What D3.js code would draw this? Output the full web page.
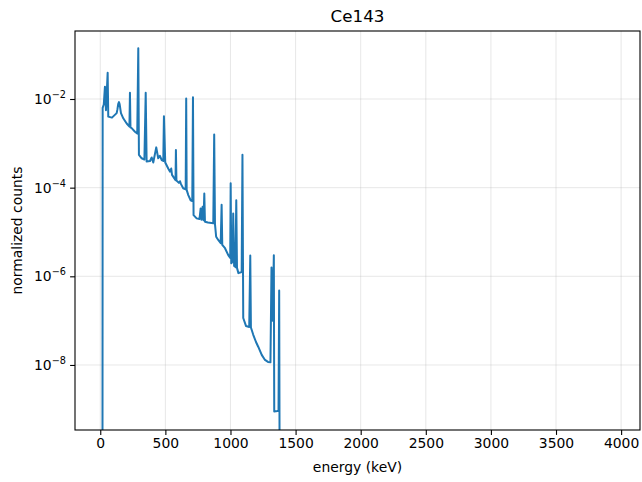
<!DOCTYPE html>
<html>
<head>
<meta charset="utf-8">
<script src="https://cdn.jsdelivr.net/npm/d3@7"></script>
<style>
  html, body { margin: 0; padding: 0; background: #fff; }
  svg { display: block; }
  text { font-family: "DejaVu Sans", sans-serif; fill: #000; }
</style>
</head>
<body>
<svg id="chart" width="642" height="482"></svg>
<script>
// Ce143 gamma spectrum: energy (keV) vs normalized counts
const energy = [
  17, 18.4, 27, 36, 43.8, 56.8, 61.4, 89.9, 126, 132, 138, 143.6, 149, 159,
  176.6, 202.8, 224, 228, 232, 241, 266.5, 284, 292, 297, 318, 339, 349, 356,
  382, 395, 407, 430, 445, 458, 472, 484, 489, 499, 522, 535, 545, 551, 578,
  581, 585, 604, 612, 620, 637, 656, 660, 663.5, 676, 694, 706.6, 712, 716.5,
  740, 762, 771, 777, 786, 793, 799, 804, 827, 868, 875, 881, 890, 906, 925,
  932, 937, 958, 983, 998, 1001.5, 1006, 1017, 1021, 1028, 1034, 1038, 1044.5,
  1050, 1061, 1086, 1092, 1098, 1119, 1144, 1152, 1157, 1175, 1196, 1213, 1240,
  1265, 1288, 1307, 1315, 1324, 1333, 1336, 1361, 1369, 1374, 1378
];
const counts = [
  1e-11, 6.3e-3, 7.5e-3, 1.9e-2, 5.6e-3, 3.9e-2, 4.0e-3, 3.8e-3, 4.8e-3, 5.9e-3, 7.8e-3, 8.5e-3, 7.6e-3, 4.8e-3,
  3.67e-3, 2.8e-3, 2.4e-3, 1.38e-2, 2.28e-3, 2.2e-3, 1.83e-3, 1.66e-3, 1.39e-1, 5.5e-4, 4.6e-4, 4.3e-4, 1.38e-2, 3.9e-4,
  4.0e-4, 4.8e-4, 3.7e-4, 8.1e-4, 4.6e-4, 5.2e-4, 4.2e-4, 4.0e-4, 4.1e-3, 3.7e-4, 2.7e-4, 2.3e-4, 2.7e-4, 1.94e-4, 1.48e-4,
  7.1e-4, 1.45e-4, 1.28e-4, 1.4e-4, 1.2e-4, 9.7e-5, 9.1e-5, 1.03e-2, 8.9e-5, 6.8e-5, 5.2e-5, 5.0e-5, 1.09e-2, 2.4e-5,
  2.03e-5, 1.96e-5, 3.4e-5, 1.9e-5, 3.7e-5, 1.85e-5, 7.4e-5, 1.7e-5, 1.63e-5, 1.58e-5, 1.58e-3, 1.5e-5, 7.8e-6, 6.6e-6, 5.6e-6,
  4.1e-5, 5.1e-6, 4.3e-6, 3.0e-6, 2.6e-6, 1.26e-4, 1.96e-6, 2.2e-6, 2.6e-5, 1.7e-6, 2.3e-6, 1.6e-6, 5.2e-5,
  1.55e-6, 1.18e-6, 1.25e-6, 5.5e-4, 1.15e-7, 7.6e-8, 7.2e-8, 2.95e-6, 7.0e-8, 4.8e-8, 3.3e-8, 2.58e-8, 1.69e-8,
  1.3e-8, 1.17e-8, 1.15e-8, 1.58e-6, 1.0e-7, 3.0e-6, 8.9e-10, 9.1e-10, 9.5e-10, 4.8e-7, 1e-11
];
const xTicks = [0, 500, 1000, 1500, 2000, 2500, 3000, 3500, 4000];
const yTickExps = [-2, -4, -6, -8];

const svg = d3.select("#chart");
const m = { left: 75, right: 640, top: 31, bottom: 430 };

const x = d3.scaleLinear().domain([-194, 4145]).range([m.left, m.right]);
const y = d3.scaleLog().domain([Math.pow(10, -9.467), Math.pow(10, -0.466)]).range([m.bottom, m.top]);

svg.append("defs").append("clipPath").attr("id", "plot-clip")
  .append("rect").attr("x", m.left).attr("y", m.top)
  .attr("width", m.right - m.left).attr("height", m.bottom - m.top);

// grid
const grid = svg.append("g").attr("stroke", "#b0b0b0").attr("stroke-opacity", 0.3).attr("stroke-width", 1);
xTicks.forEach(t => grid.append("line")
  .attr("x1", x(t)).attr("x2", x(t)).attr("y1", m.top).attr("y2", m.bottom));
yTickExps.forEach(e => grid.append("line")
  .attr("x1", m.left).attr("x2", m.right).attr("y1", y(Math.pow(10, e))).attr("y2", y(Math.pow(10, e))));

// spectrum line
const pts = energy.map((e, i) => [e, counts[i]]);
svg.append("path")
  .datum(pts)
  .attr("clip-path", "url(#plot-clip)")
  .attr("fill", "none")
  .attr("stroke", "#1f77b4")
  .attr("stroke-width", 2)
  .attr("stroke-linejoin", "round")
  .attr("d", d3.line().x(d => x(d[0])).y(d => y(Math.max(d[1], 1e-12))));

// x axis
const xAxis = d3.axisBottom(x).tickValues(xTicks).tickSize(4.9).tickPadding(3.5).tickFormat(d3.format("d"));
const gx = svg.append("g").attr("transform", `translate(0,${m.bottom})`).call(xAxis);
gx.select(".domain").remove();
gx.selectAll(".tick line").attr("stroke", "#000").attr("stroke-width", 1.1);
gx.selectAll(".tick text").attr("font-family", "DejaVu Sans").attr("font-size", 13.9).attr("fill", "#000");

// y axis with power-of-ten labels
const yAxis = d3.axisLeft(y).tickValues(yTickExps.map(e => Math.pow(10, e))).tickSize(4.9).tickFormat("");
const gy = svg.append("g").attr("transform", `translate(${m.left},0)`).call(yAxis);
gy.select(".domain").remove();
gy.selectAll(".tick line").attr("stroke", "#000").attr("stroke-width", 1.1);
yTickExps.forEach(e => {
  const t = svg.append("text")
    .attr("x", 66).attr("y", y(Math.pow(10, e)) + 5)
    .attr("text-anchor", "end").attr("font-size", 13.9);
  t.append("tspan").text("10");
  t.append("tspan").attr("dy", -6).attr("font-size", 9.7).text("\u2212" + Math.abs(e));
});

// frame
svg.append("rect").attr("x", m.left).attr("y", m.top)
  .attr("width", m.right - m.left).attr("height", m.bottom - m.top)
  .attr("fill", "none").attr("stroke", "#000").attr("stroke-width", 1.1);

// titles
svg.append("text").attr("x", (m.left + m.right) / 2).attr("y", 22)
  .attr("text-anchor", "middle").attr("font-size", 16.7).text("Ce143");
svg.append("text").attr("x", (m.left + m.right) / 2).attr("y", 472)
  .attr("text-anchor", "middle").attr("font-size", 13.9).text("energy (keV)");
svg.append("text").attr("transform", `translate(22,${(m.top + m.bottom) / 2}) rotate(-90)`)
  .attr("text-anchor", "middle").attr("font-size", 13.9).text("normalized counts");
</script>
</body>
</html>
